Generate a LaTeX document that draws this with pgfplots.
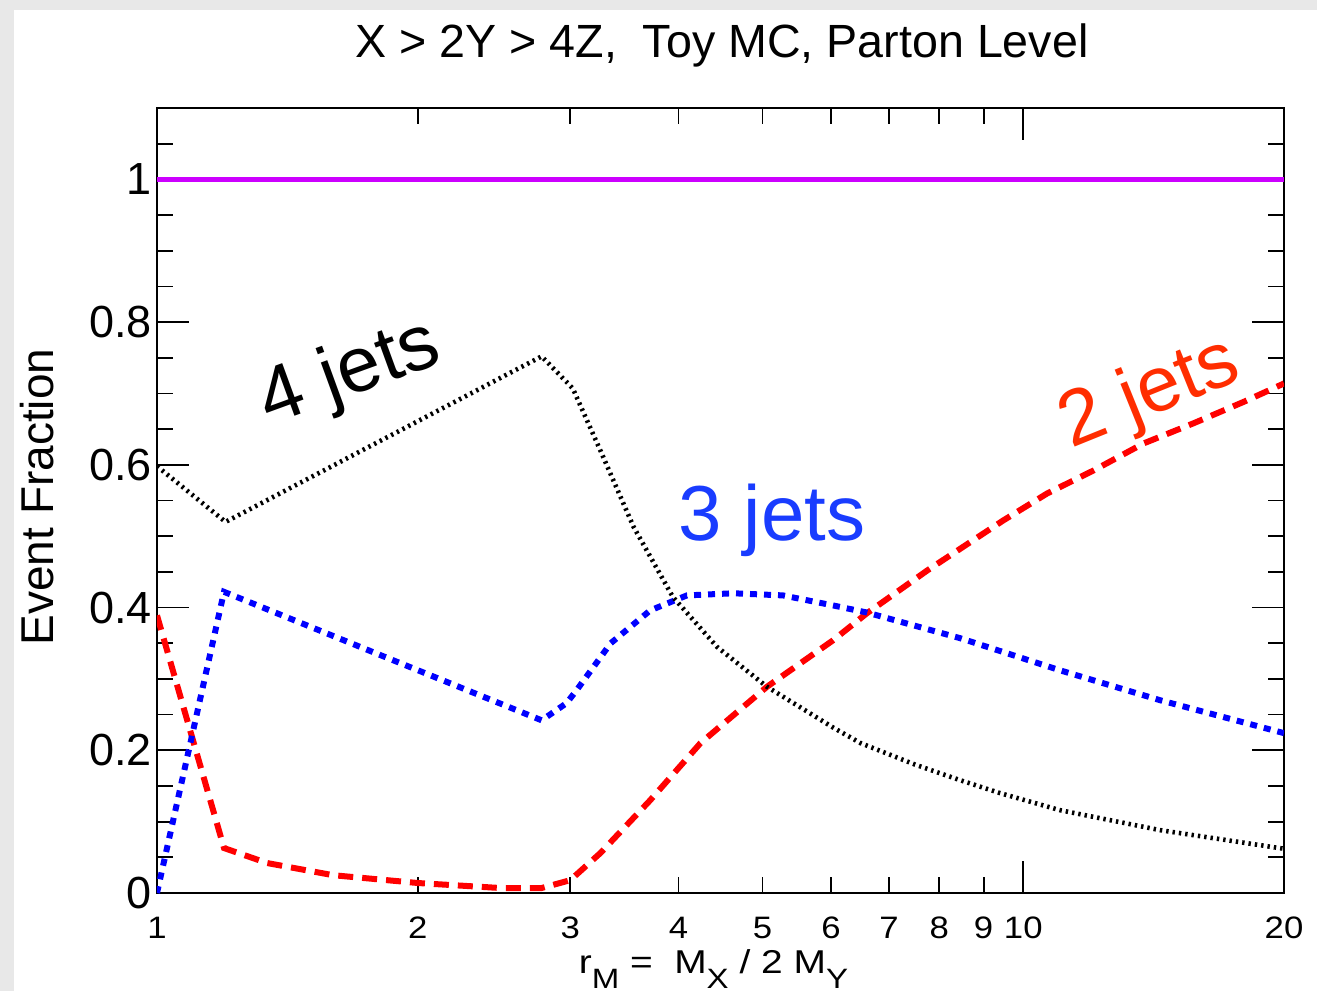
\documentclass[border=0pt]{standalone}
\usepackage{graphicx}
\usepackage{pgfplots}
\pgfplotsset{compat=1.18}
\usepackage{fontspec}
\setmainfont{Liberation Sans}
\definecolor{mag}{RGB}{204,0,255}
\definecolor{lblue}{RGB}{25,60,255}
\definecolor{lred}{RGB}{255,45,0}
\definecolor{shadow}{RGB}{232,232,232}
\newcommand\sub[1]{\raisebox{-7.5pt}{\fontsize{14}{14}\selectfont #1}}
\newcommand\xt[1]{\scalebox{1.12}[1]{#1}}
\newcommand\xl[1]{\scalebox{1.18}[1]{#1}}
\begin{document}
\begin{tikzpicture}
\fill[shadow] (-78.5pt,-49pt) rectangle (580pt,446.5pt);
\fill[white] (-71.5pt,-49pt) rectangle (580pt,441.5pt);
\begin{axis}[
  at={(0,0)}, anchor=south west,
  scale only axis, width=563.5pt, height=392.5pt,
  xmode=log, xmin=1, xmax=20, ymin=0, ymax=1.1,
  axis line style={line width=1.2pt},
  tick style={line width=0.9pt, black},
  tick align=inside,
  major tick length=16pt, minor tick length=8pt,
  xtick={1,10}, xticklabels={\xt{1},\xt{10}},
  extra x ticks={2,3,4,5,6,7,8,9,20},
  extra x tick labels={\xt{2},\xt{3},\xt{4},\xt{5},\xt{6},\xt{7},\xt{8},\xt{9},\xt{20}},
  extra x tick style={major tick length=6pt},
  ytick={0,0.2,0.4,0.6,0.8,1},
  yticklabels={0,0.2,0.4,0.6,0.8,1},
  minor ytick={0.05,0.1,0.15,0.25,0.3,0.35,0.45,0.5,0.55,0.65,0.7,0.75,0.85,0.9,0.95,1.05},
  xticklabel style={font=\fontsize{15.5}{15.5}\selectfont, anchor=base, yshift=-22.5pt},
  yticklabel style={font=\fontsize{22.5}{22.5}\selectfont, xshift=1pt},
  clip=true,
]
\addplot[mag, line width=2.5pt] coordinates {(1,1) (20,1)};
\addplot[red, line width=3pt, dash pattern=on 7.5pt off 4.5pt] coordinates {
 (1,0.389) (1.195,0.063) (1.34,0.042) (1.596,0.025) (2,0.014) (2.49,0.007) (2.78,0.007)
 (3.0,0.018) (3.25,0.056) (3.71,0.130) (4.24,0.210) (5.06,0.289) (6.03,0.354) (6.6,0.392)
 (7.75,0.452) (9.48,0.522) (10.66,0.560) (12.05,0.592) (13.77,0.630) (15.71,0.658) (17.95,0.688) (20,0.714)};
\addplot[blue, line width=3pt, dash pattern=on 3.5pt off 3.5pt] coordinates {
 (1,0) (1.195,0.422) (2.78,0.242) (2.97,0.266) (3.05,0.284) (3.34,0.350) (3.71,0.396)
 (4.09,0.417) (4.63,0.420) (5.28,0.417) (6.03,0.403) (6.6,0.393) (8.46,0.357) (11.03,0.312)
 (14.4,0.270) (20,0.224)};
\addplot[black, line width=2.3pt, dash pattern=on 1.2pt off 2pt] coordinates {
 (1,0.598) (1.2,0.520) (2.78,0.752) (3.02,0.707) (3.25,0.620) (3.55,0.513) (3.94,0.415)
 (4.43,0.345) (5.06,0.289) (6.03,0.232) (6.49,0.210) (7.5,0.180) (8.46,0.158) (9.4,0.140)
 (11.03,0.116) (14.4,0.088) (20,0.062)};
\end{axis}
\node[font=\fontsize{23.3}{23.3}\selectfont] at (282.5pt,424pt) {X > 2Y > 4Z,~ Toy MC, Parton Level};
\node[font=\fontsize{23}{23}\selectfont, rotate=90] at (-60pt,198pt) {Event Fraction};
\node[font=\fontsize{16.5}{16.5}\selectfont, inner sep=0pt, anchor=base] at (278.25pt,-40pt) {\xl{r\sub{M} =\hspace{0.55em}M\sub{X} / 2 M\sub{Y}}};
\node[font=\fontsize{39}{39}\selectfont, lblue] at (307.5pt,186.5pt) {3 jets};
\node[font=\fontsize{39}{39}\selectfont, black, rotate=20] at (96.5pt,259pt) {4 jets};
\node[font=\fontsize{39}{39}\selectfont, lred, rotate=22] at (496.5pt,249pt) {2 jets};
\pgfresetboundingbox
\path (-78.5pt,-49pt) rectangle (580pt,446.5pt);
\end{tikzpicture}
\end{document}
